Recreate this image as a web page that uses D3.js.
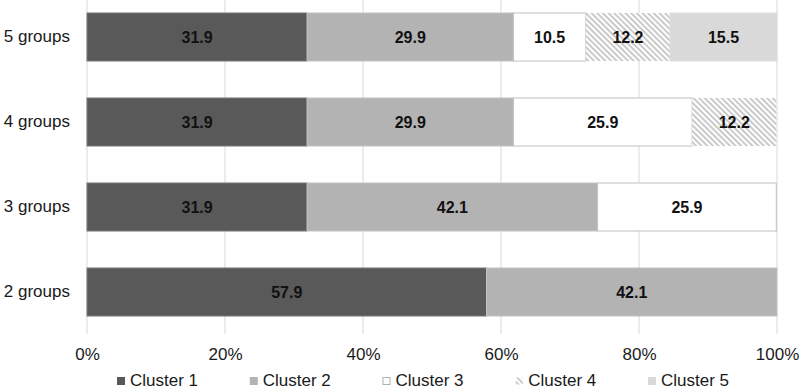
<!DOCTYPE html>
<html>
<head>
<meta charset="utf-8">
<script src="https://cdn.jsdelivr.net/npm/d3@7/dist/d3.min.js"></script>
<style>
  html, body { margin: 0; padding: 0; background: #fff; }
  svg { display: block; font-family: Arial, "Liberation Sans", sans-serif; }
</style>
</head>
<body>
<svg id="chart" width="800" height="390"></svg>
<script>
// ---- data ----
const categories = ["5 groups", "4 groups", "3 groups", "2 groups"];
const clusters = ["Cluster 1", "Cluster 2", "Cluster 3", "Cluster 4", "Cluster 5"];
const cluster1 = [31.9, 31.9, 31.9, 57.9];
const cluster2 = [29.9, 29.9, 42.1, 42.1];
const cluster3 = [10.5, 25.9, 25.9, 0];
const cluster4 = [12.2, 12.2, 0, 0];
const cluster5 = [15.5, 0, 0, 0];
const xTicks = [0, 20, 40, 60, 80, 100];

const seriesValues = [cluster1, cluster2, cluster3, cluster4, cluster5];

// ---- build table ----
const table = categories.map((c, i) => {
  const row = { category: c };
  clusters.forEach((k, j) => row[k] = seriesValues[j][i]);
  return row;
});
const stacked = d3.stack().keys(clusters)(table);

const svg = d3.select("#chart");
const defs = svg.append("defs");
const pat = defs.append("pattern")
  .attr("id", "hatch")
  .attr("patternUnits", "userSpaceOnUse")
  .attr("width", 4).attr("height", 4)
  .attr("patternTransform", "rotate(-45)");
pat.append("rect").attr("width", 4).attr("height", 4).attr("fill", "#fff");
pat.append("line").attr("x1", 1).attr("y1", 0).attr("x2", 1).attr("y2", 4)
  .attr("stroke", "#bdbdbd").attr("stroke-width", 1.6);

const fills = {
  "Cluster 1": "#595959",
  "Cluster 2": "#b3b3b3",
  "Cluster 3": "#ffffff",
  "Cluster 4": "url(#hatch)",
  "Cluster 5": "#d9d9d9"
};
const strokes = {
  "Cluster 1": "#7a7a7a",
  "Cluster 2": "#c4c4c4",
  "Cluster 3": "#c0c0c0",
  "Cluster 4": "none",
  "Cluster 5": "#dedede"
};

const x = d3.scaleLinear().domain([0, 100]).range([87, 777]);
const y = d3.scaleBand().domain(categories).range([-5.5, 334.5])
  .paddingInner(0.435).paddingOuter(0.2175);

// gridlines
svg.append("g").selectAll("line").data(xTicks).join("line")
  .attr("x1", d => x(d)).attr("x2", d => x(d))
  .attr("y1", 0).attr("y2", 334)
  .attr("stroke", "#d9d9d9").attr("stroke-width", 1);

// x axis labels
const xAxis = d3.axisBottom(x).tickValues(xTicks).tickFormat(d => d + "%").tickSize(0).tickPadding(0);
const gx = svg.append("g").attr("transform", "translate(0,345)").call(xAxis);
gx.select(".domain").remove();
gx.selectAll("text").attr("font-size", 17).attr("fill", "#1a1a1a")
  .attr("font-family", "Arial, 'Liberation Sans', sans-serif").attr("dy", "0.9em");

// y axis labels
const yAxis = d3.axisLeft(y).tickSize(0).tickPadding(0);
const gy = svg.append("g").attr("transform", "translate(70,0)").call(yAxis);
gy.select(".domain").remove();
gy.selectAll("text").attr("font-size", 17).attr("fill", "#1a1a1a")
  .attr("font-family", "Arial, 'Liberation Sans', sans-serif");

// bars
const layers = svg.append("g").selectAll("g").data(stacked).join("g");
layers.selectAll("rect").data(d => d.map(v => ({ key: d.key, v, cat: v.data.category })).filter(o => o.v[1] - o.v[0] > 0))
  .join("rect")
  .attr("x", o => x(o.v[0]))
  .attr("y", o => y(o.cat))
  .attr("width", o => x(o.v[1]) - x(o.v[0]))
  .attr("height", y.bandwidth())
  .attr("fill", o => fills[o.key])
  .attr("stroke", o => strokes[o.key])
  .attr("stroke-width", 1);

// labels
layers.selectAll("text").data(d => d.map(v => ({ key: d.key, v, cat: v.data.category })).filter(o => o.v[1] - o.v[0] > 0))
  .join("text")
  .attr("x", o => (x(o.v[0]) + x(o.v[1])) / 2)
  .attr("y", o => y(o.cat) + y.bandwidth() / 2)
  .attr("dy", "0.36em")
  .attr("text-anchor", "middle")
  .attr("font-size", 16).attr("font-weight", "bold").attr("fill", "#111")
  .text(o => (o.v[1] - o.v[0]).toFixed(1));

// legend
const lx = d3.scalePoint().domain(clusters).range([117, 648]);
const leg = svg.append("g").selectAll("g").data(clusters).join("g")
  .attr("transform", d => `translate(${lx(d)},377)`);
leg.append("rect").attr("x", 0.5).attr("y", 0.5).attr("width", 7).attr("height", 7)
  .attr("fill", d => fills[d])
  .attr("stroke", d => d === "Cluster 3" ? "#b0b0b0" : (d === "Cluster 4" ? "none" : fills[d]))
  .attr("stroke-width", 1);
leg.append("text").attr("x", 13).attr("y", 9)
  .attr("font-size", 17).attr("fill", "#1a1a1a")
  .text(d => d);
</script>
</body>
</html>
